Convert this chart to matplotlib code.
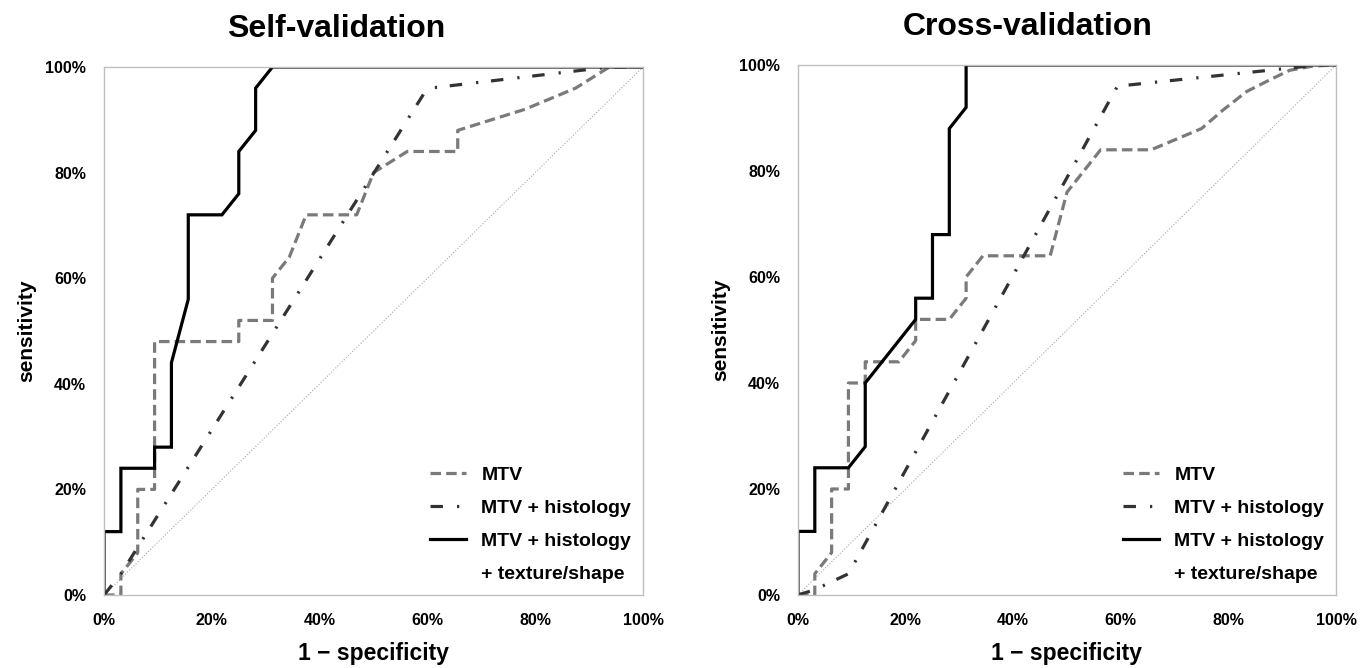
import matplotlib
matplotlib.use('Agg')
import matplotlib.pyplot as plt
from matplotlib.lines import Line2D

plt.rcParams['font.family'] = ['Liberation Sans', 'DejaVu Sans']

# values in percent (1 - specificity, sensitivity)
self_mtv_x = [0, 3.125, 3.125, 6.25, 6.25, 9.375, 9.375, 25, 25, 31.25, 31.25, 34.375, 37.5,
              46.875, 50, 56.25, 65.625, 65.625, 78.125, 87.5, 93.75, 100]
self_mtv_y = [0, 0, 4, 8, 20, 20, 48, 48, 52, 52, 60, 64, 72,
              72, 80, 84, 84, 88, 92, 96, 100, 100]
self_hist_x = [0, 3.125, 59.375, 60.5, 93.75, 100]
self_hist_y = [0, 4, 95, 96, 100, 100]
self_tex_x = [0, 0, 3.125, 3.125, 9.375, 9.375, 12.5, 12.5, 15.625, 15.625, 21.875, 25, 25,
              28.125, 28.125, 31.25, 100]
self_tex_y = [0, 12, 12, 24, 24, 28, 28, 44, 56, 72, 72, 76, 84,
              88, 96, 100, 100]

cross_mtv_x = [0, 3.125, 3.125, 6.25, 6.25, 9.375, 9.375, 12.5, 12.5, 18.75, 21.875, 21.875,
               28.125, 31.25, 31.25, 34.375, 46.875, 50, 56.25, 65.625, 75, 79, 83.4, 87.7,
               91.4, 95.7, 100]
cross_mtv_y = [0, 0, 4, 8, 20, 20, 40, 40, 44, 44, 48, 52,
               52, 56, 60, 64, 64, 76, 84, 84, 88, 91.5, 95, 97.2,
               99, 99.8, 100]
cross_hist_x = [0, 3.125, 9.375, 59.375, 96.875, 100]
cross_hist_y = [0, 1, 4, 96, 100, 100]
cross_tex_x = [0, 0, 3.125, 3.125, 9.375, 12.5, 12.5, 21.875, 21.875, 25, 25, 28.125, 28.125,
               31.25, 31.25, 100]
cross_tex_y = [0, 12, 12, 24, 24, 28, 40, 52, 56, 56, 68, 68, 88,
               92, 100, 100]

titles = ['Self-validation', 'Cross-validation']
labels = ['MTV', 'MTV + histology', 'MTV + histology', '+ texture/shape']
ticks = [0, 20, 40, 60, 80, 100]
tick_labels = ['0%', '20%', '40%', '60%', '80%', '100%']

series = [
    (self_mtv_x, self_mtv_y, self_hist_x, self_hist_y, self_tex_x, self_tex_y),
    (cross_mtv_x, cross_mtv_y, cross_hist_x, cross_hist_y, cross_tex_x, cross_tex_y),
]

fig = plt.figure(figsize=(13.62, 6.68), dpi=100)
axs = [fig.add_axes([0.0764, 0.1093, 0.3957, 0.7904]),
       fig.add_axes([0.5859, 0.1093, 0.3950, 0.7934])]
title_x = [0.431, 0.427]

for i, ax in enumerate(axs):
    mx, my, hx, hy, tx, ty = series[i]
    ax.plot([0, 100], [0, 100], color='#a8a8a8', lw=0.8, ls=':')
    l1, = ax.plot(mx, my, color='#7a7a7a', lw=2.3, dashes=(3.3, 1.6), solid_joinstyle='round')
    l2, = ax.plot(hx, hy, color='#333333', lw=2.3, dashes=(3.9, 4.4, 0.7, 4.0))
    l3, = ax.plot(tx, ty, color='black', lw=2.3, solid_joinstyle='miter')
    blank = Line2D([], [], color='none')

    ax.set_xlim(0, 100)
    ax.set_ylim(0, 100)
    ax.set_xticks(ticks)
    ax.set_xticklabels(tick_labels, fontweight='bold')
    ax.set_yticks(ticks)
    ax.set_yticklabels(tick_labels, fontweight='bold')
    ax.tick_params(length=0, labelsize=11.5, pad=13)
    for s in ax.spines.values():
        s.set_color('#c0c0c0')
        s.set_linewidth(1)

    ax.set_xlabel('1 \u2212 specificity', fontsize=16.5, fontweight='bold', labelpad=10)
    ax.set_ylabel('sensitivity', fontsize=15, fontweight='bold', labelpad=6)
    ax.text(title_x[i], 1.057, titles[i], transform=ax.transAxes, ha='center',
            va='baseline', fontsize=23, fontweight='bold')

    leg = ax.legend([l1, l2, l3, blank], labels, loc='lower right', frameon=False,
                    fontsize=14, handlelength=1.85, handletextpad=0.8,
                    labelspacing=0.8, borderaxespad=0.2)
    for t in leg.get_texts():
        t.set_fontweight('bold')

plt.savefig('out.png', dpi=100)
